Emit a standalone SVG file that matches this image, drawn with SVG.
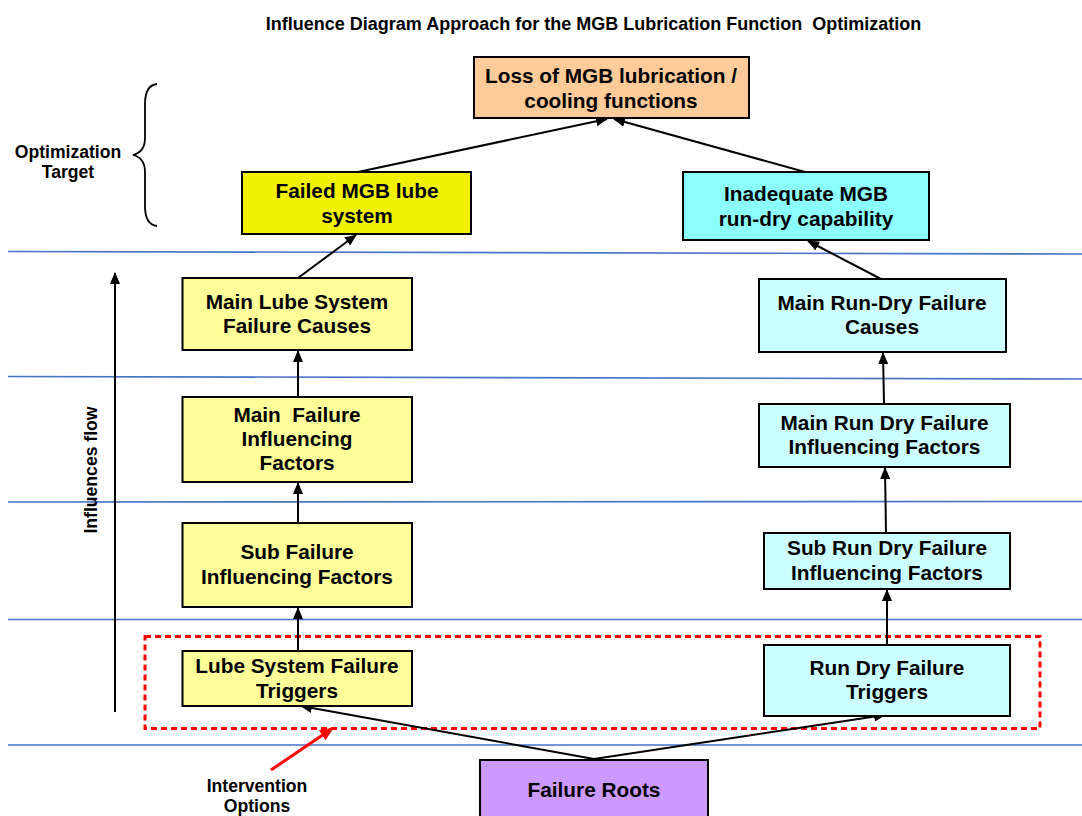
<svg xmlns="http://www.w3.org/2000/svg" width="1082" height="816" viewBox="0 0 1082 816">
  <defs>
    <style>
      .lbl { font-family: "Liberation Sans", Arial, sans-serif; font-weight: bold; fill: #000; white-space: pre; }
      .box text { font-size: 20.8px; text-anchor: middle; }
      .box rect { stroke: #000; stroke-width: 2; }
      .band { stroke: #4472C4; stroke-width: 1.6; fill: none; }
      .link { stroke: #000; stroke-width: 2; fill: none; marker-end: url(#arrow); }
      .side { font-size: 17.6px; text-anchor: middle; }
    </style>
    <marker id="arrow" viewBox="0 0 12 10" refX="11" refY="5" markerWidth="12" markerHeight="10" markerUnits="userSpaceOnUse" orient="auto">
      <path d="M0,0 L12,5 L0,10 z" fill="#000"/>
    </marker>
    <marker id="redArrow" viewBox="0 0 14 12" refX="13" refY="6" markerWidth="14" markerHeight="12" markerUnits="userSpaceOnUse" orient="auto">
      <path d="M0,0 L14,6 L0,12 z" fill="#FF0000"/>
    </marker>
  </defs>

  <rect x="0" y="0" width="1082" height="816" fill="#fff"/>

  <!-- title -->
  <text class="lbl" x="593.5" y="30" font-size="18" text-anchor="middle">Influence Diagram Approach for the MGB Lubrication Function  Optimization</text>

  <!-- level separators -->
  <g id="bands">
    <line class="band" x1="8" y1="251.5" x2="1082" y2="254"/>
    <line class="band" x1="8" y1="376.5" x2="1082" y2="379"/>
    <line class="band" x1="8" y1="502" x2="1082" y2="501.5"/>
    <line class="band" x1="8" y1="619.5" x2="1082" y2="619.5"/>
    <line class="band" x1="8" y1="745" x2="1082" y2="745"/>
  </g>

  <!-- optimization target brace -->
  <g id="target">
    <path d="M157,84 C148,85 145,92 145,104 L145,138 C145,148 141,153 133,155 C141,157 145,162 145,172 L145,206 C145,218 148,225 157,226" fill="none" stroke="#000" stroke-width="1.8"/>
    <text class="lbl side" x="68" y="158">Optimization</text>
    <text class="lbl side" x="68" y="178">Target</text>
  </g>

  <!-- influences flow axis -->
  <g id="flow">
    <line x1="115" y1="712" x2="115" y2="273" stroke="#000" stroke-width="2" marker-end="url(#arrow)"/>
    <text class="lbl" font-size="17.6" text-anchor="middle" transform="translate(97,470) rotate(-90)">Influences flow</text>
  </g>

  <!-- intervention zone -->
  <g id="intervention">
    <rect x="145" y="636.5" width="895" height="92" fill="none" stroke="#FF0000" stroke-width="3" stroke-dasharray="6,4"/>
    <line x1="271" y1="770" x2="333" y2="728" stroke="#FF0000" stroke-width="3" marker-end="url(#redArrow)"/>
    <text class="lbl side" x="257" y="792">Intervention</text>
    <text class="lbl side" x="257" y="812">Options</text>
  </g>

  <!-- connectors -->
  <g id="connectors">
    <line class="link" x1="358" y1="172" x2="607" y2="119"/>
    <line class="link" x1="805" y1="172" x2="614" y2="119"/>
    <line class="link" x1="298" y1="278" x2="356" y2="235"/>
    <line class="link" x1="881" y1="279" x2="808" y2="241"/>
    <line class="link" x1="298" y1="397" x2="298" y2="351"/>
    <line class="link" x1="298" y1="523" x2="298" y2="483"/>
    <line class="link" x1="298" y1="651" x2="298" y2="608"/>
    <line class="link" x1="884" y1="404" x2="883" y2="353"/>
    <line class="link" x1="886" y1="533" x2="885" y2="468"/>
    <line class="link" x1="887" y1="645" x2="887" y2="590"/>
    <line class="link" x1="594" y1="759" x2="301" y2="706"/>
    <line class="link" x1="594" y1="759" x2="885" y2="715"/>
  </g>

  <!-- nodes -->
  <g id="loss-of-mgb-lubrication" class="box">
    <rect x="474" y="57" width="275" height="61" fill="#FFCC99"/>
    <text class="lbl" x="611" y="82.5">Loss of MGB lubrication /</text>
    <text class="lbl" x="611" y="107.5">cooling functions</text>
  </g>

  <g id="failed-mgb-lube-system" class="box">
    <rect x="242" y="172" width="229" height="62" fill="#F2F200"/>
    <text class="lbl" x="357" y="197.5">Failed MGB lube</text>
    <text class="lbl" x="357" y="222.5">system</text>
  </g>

  <g id="inadequate-run-dry" class="box">
    <rect x="683" y="172" width="246" height="68" fill="#8CFFFF"/>
    <text class="lbl" x="806" y="200.5">Inadequate MGB</text>
    <text class="lbl" x="806" y="225.5">run-dry capability</text>
  </g>

  <g id="main-lube-causes" class="box">
    <rect x="182.5" y="278" width="229.5" height="72" fill="#FFFF99"/>
    <text class="lbl" x="297" y="308.5">Main Lube System</text>
    <text class="lbl" x="297" y="333">Failure Causes</text>
  </g>

  <g id="main-failure-factors" class="box">
    <rect x="182.5" y="397" width="229.5" height="85" fill="#FFFF99"/>
    <text class="lbl" x="297" y="421.5">Main  Failure</text>
    <text class="lbl" x="297" y="446">Influencing</text>
    <text class="lbl" x="297" y="470">Factors</text>
  </g>

  <g id="sub-failure-factors" class="box">
    <rect x="182.5" y="523" width="229.5" height="84" fill="#FFFF99"/>
    <text class="lbl" x="297" y="559">Sub Failure</text>
    <text class="lbl" x="297" y="584">Influencing Factors</text>
  </g>

  <g id="lube-triggers" class="box">
    <rect x="182.5" y="651" width="229.5" height="55" fill="#FFFF99"/>
    <text class="lbl" x="297" y="672.5">Lube System Failure</text>
    <text class="lbl" x="297" y="697.5">Triggers</text>
  </g>

  <g id="main-run-dry-causes" class="box">
    <rect x="759" y="279" width="247" height="73" fill="#CCFFFF"/>
    <text class="lbl" x="882" y="310">Main Run-Dry Failure</text>
    <text class="lbl" x="882" y="334">Causes</text>
  </g>

  <g id="main-run-dry-factors" class="box">
    <rect x="759" y="404" width="251" height="63" fill="#CCFFFF"/>
    <text class="lbl" x="884.5" y="430">Main Run Dry Failure</text>
    <text class="lbl" x="884.5" y="453.5">Influencing Factors</text>
  </g>

  <g id="sub-run-dry-factors" class="box">
    <rect x="764" y="533" width="246" height="56" fill="#CCFFFF"/>
    <text class="lbl" x="887" y="555">Sub Run Dry Failure</text>
    <text class="lbl" x="887" y="580">Influencing Factors</text>
  </g>

  <g id="run-dry-triggers" class="box">
    <rect x="764" y="645" width="246" height="71" fill="#CCFFFF"/>
    <text class="lbl" x="887" y="675">Run Dry Failure</text>
    <text class="lbl" x="887" y="699">Triggers</text>
  </g>

  <g id="failure-roots" class="box">
    <rect x="480" y="760" width="228" height="70" fill="#CC99FF"/>
    <text class="lbl" x="594" y="796.5">Failure Roots</text>
  </g>
</svg>
